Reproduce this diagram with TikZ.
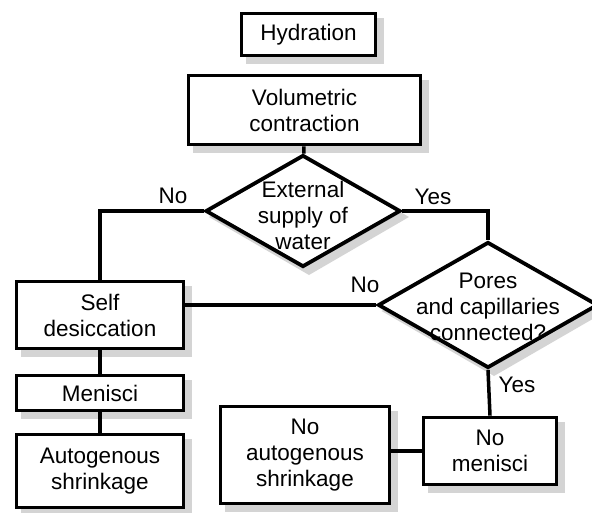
\documentclass[tikz,border=0pt]{standalone}
\usepackage{fontspec}
\setmainfont{Liberation Sans}
\usetikzlibrary{shapes.geometric}
\definecolor{shadowgray}{RGB}{212,212,212}

\begin{document}
\begin{tikzpicture}[x=1pt, y=-1pt,
    font=\fontsize{22.5}{26}\selectfont,
    box/.style={rectangle, draw, line width=3.8pt, fill=white, align=center, inner sep=0pt},
    decision/.style={diamond, draw, line width=3.8pt, fill=white, inner sep=0pt},
    conn/.style={line width=3.5pt},
    grayshadow/.style={fill=shadowgray}]

    \useasboundingbox (0,0) rectangle (592,512);

    % Shadows (centre x / centre y / width / height, offset 6)
    \foreach \cx/\cy/\w/\h in {308.5/34.5/138/46, 304.5/110/236/73, 100/315/171/71, 100/393/171/39,
        100/471/171/77, 490/451/137/71, 305/455/173/101}
    \fill[grayshadow] ({\cx-\w/2+6},{\cy-\h/2+6}) rectangle ({\cx+\w/2+6},{\cy+\h/2+6});
    \foreach \cx/\cy/\w/\h in {303/211/200/116, 488/305/225/130}
    \fill[grayshadow] ({\cx+6},{\cy-\h/2+6}) -- ({\cx+\w/2+6},{\cy+6}) -- ({\cx+6},{\cy+\h/2+6})
        -- ({\cx-\w/2+6},{\cy+6}) -- cycle;

    % Top
    \node[box, minimum width=134, minimum height=42] (hyd) at (308.5,34.5) {Hydration};
    \node[box, minimum width=232, minimum height=69] (vol) at (304.5,110) {Volumetric\\contraction};

    % Decisions
    \node[decision, minimum width=195, minimum height=112,
        label={[align=center, yshift=-4pt]center:External\\supply of\\water}] (ext) at (303,211) {};
    \node[decision, minimum width=220, minimum height=126,
        label={[align=center, yshift=-2pt]center:Pores\\and capillaries\\connected?}] (pores) at (488,305) {};

    % Left column
    \node[box, minimum width=167, minimum height=67] (selfd) at (100,315) {Self\\desiccation};
    \node[box, minimum width=167, minimum height=35] (men) at (100,393) {Menisci};
    \node[box, minimum width=167, minimum height=73] (auto) at (100,471) {Autogenous\\shrinkage};

    % Right side
    \node[box, minimum width=133, minimum height=67] (nomen) at (490,451) {No\\menisci};
    \node[box, minimum width=169, minimum height=97] (noauto) at (305,455) {No\\autogenous\\shrinkage};

    % Connect
    \draw[conn] (vol) -- (ext);
    \draw[conn] (ext.west) -| (selfd.north);
    \draw[conn] (ext.east) -| (pores.north);
    \draw[conn] (pores.west) -- (pores.west -| selfd.east);
    \draw[conn] (selfd) -- (men);
    \draw[conn] (men) -- (auto);
    \draw[conn] (pores.south) -- (nomen.north);
    \draw[conn] (nomen.west) -- (nomen.west -| noauto.east);

    % Labels
    \node (noL) at (173,196) {No};
    \node (yesR) at (433,197) {Yes};
    \node (noP) at (365,285) {No};
    \node (yesP) at (517,385) {Yes};

\end{tikzpicture}
\end{document}
